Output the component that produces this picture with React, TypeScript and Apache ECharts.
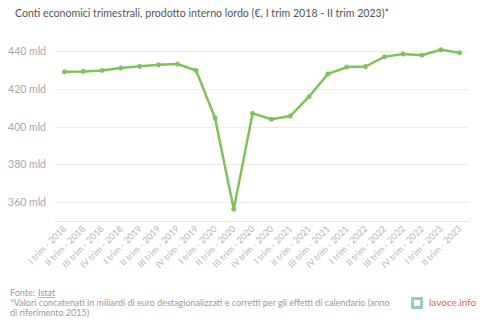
import React, { useEffect, useRef } from "react";
import * as echarts from "echarts";

const categories = [
  "I trim - 2018", "II trim - 2018", "III trim - 2018", "IV trim - 2018",
  "I trim - 2019", "II trim - 2019", "III trim - 2019", "IV trim - 2019",
  "I trim - 2020", "II trim - 2020", "III trim - 2020", "IV trim - 2020",
  "I trim - 2021", "II trim - 2021", "III trim - 2021", "IV trim - 2021",
  "I trim - 2022", "II trim - 2022", "III trim - 2022", "IV trim - 2022",
  "I trim - 2023", "II trim - 2023",
];
const pil = [
  429.2, 429.4, 429.9, 431.2, 432.1, 432.9, 433.3, 429.9, 404.8, 356.3,
  407.1, 404.0, 405.7, 416.0, 428.0, 431.7, 432.0, 437.1, 438.6, 438.0,
  440.9, 439.3,
];
const yTicks = [360, 380, 400, 420, 440];

const FONT = "Lato, 'Noto Sans', sans-serif";

export default function App() {
  const ref = useRef<HTMLDivElement>(null);
  useEffect(() => {
    if (!ref.current) return;
    const chart = echarts.init(ref.current, undefined, { renderer: "svg" });
    chart.setOption({
      animation: false,
      backgroundColor: "#ffffff",
      title: {
        text: "Conti economici trimestrali, prodotto interno lordo (€, I trim 2018 - II trim 2023)*",
        left: 10,
        top: 2,
        textStyle: { fontFamily: FONT, fontSize: 10.6, fontWeight: "normal", color: "#555" },
      },
      grid: { left: 55, right: 31, top: 42, bottom: 100, containLabel: false },
      xAxis: {
        type: "category",
        data: categories,
        boundaryGap: true,
        axisLine: { lineStyle: { color: "#e6e6e6" } },
        axisTick: { alignWithLabel: true, length: 4, lineStyle: { color: "#e6e6e6" } },
        axisLabel: {
          interval: 0,
          rotate: 45,
          fontFamily: FONT,
          fontSize: 9,
          color: "#b5b5b5",
          margin: 6,
        },
      },
      yAxis: {
        type: "value",
        min: 350,
        max: 445,
        axisLine: { show: false },
        axisTick: { show: false, customValues: yTicks },
        splitLine: { lineStyle: { color: "#ececec" } },
        axisLabel: {
          customValues: yTicks,
          formatter: (v: number) => `${v} mld`,
          fontFamily: FONT,
          fontSize: 10.5,
          color: "#a8a8a8",
          margin: 9,
        },
      },
      series: [
        {
          type: "line",
          data: pil,
          symbol: "circle",
          symbolSize: 5,
          lineStyle: { color: "#7dc35a", width: 2.5 },
          itemStyle: { color: "#7dc35a" },
        },
      ],
      graphic: [
        {
          type: "text",
          left: 10,
          top: 287.5,
          style: { text: "Fonte: ", font: `9px ${FONT}`, fill: "#9a9a9a" },
        },
        {
          type: "text",
          left: 38,
          top: 287.5,
          style: { text: "Istat", font: `9px ${FONT}`, fill: "#9a9a9a" },
        },
        {
          type: "line",
          shape: { x1: 38, y1: 297.5, x2: 55, y2: 297.5 },
          style: { stroke: "#9a9a9a", lineWidth: 0.8 },
        },
        {
          type: "text",
          left: 10,
          top: 298,
          style: {
            text: "*Valori concatenati in miliardi di euro destagionalizzati e corretti per gli effetti di calendario (anno",
            font: `9px ${FONT}`,
            fill: "#9a9a9a",
          },
        },
        {
          type: "text",
          left: 10,
          top: 308,
          style: {
            text: "di riferimento 2015)",
            font: `9px ${FONT}`,
            fill: "#9a9a9a",
          },
        },
        {
          type: "rect",
          shape: { x: 411, y: 297, width: 12, height: 12, r: 1 },
          style: {
            fill: new echarts.graphic.LinearGradient(0, 0, 1, 1, [
              { offset: 0, color: "#9bd7a0" },
              { offset: 1, color: "#8cc9d6" },
            ]),
          },
        },
        {
          type: "rect",
          shape: { x: 414, y: 300, width: 6, height: 6 },
          style: { fill: "#ffffff" },
        },
        {
          type: "text",
          left: 429,
          top: 297,
          style: { text: "lavoce.info", font: `10px ${FONT}`, fill: "#e8603c" },
        },
      ],
    });
    return () => chart.dispose();
  }, []);
  return (
    <div
      ref={ref}
      style={{ position: "absolute", left: 0, top: 0, width: 500, height: 321 }}
    />
  );
}
